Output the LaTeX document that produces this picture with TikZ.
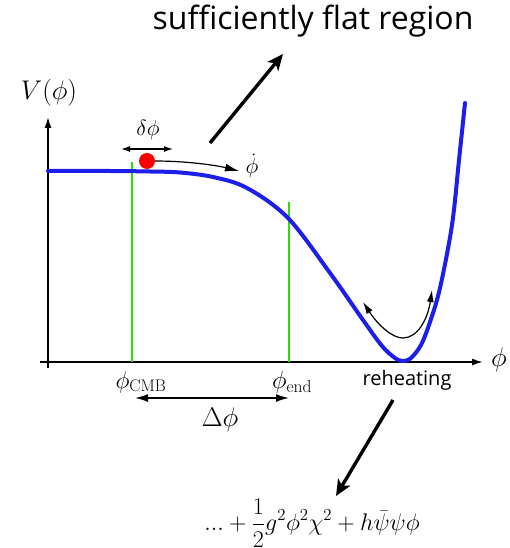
\RequirePackage{fix-cm}
\documentclass[tikz,border=0pt]{standalone}
\usepackage{fontspec}
\newfontfamily\sansfont{Open Sans}
\usetikzlibrary{arrows.meta}
\definecolor{potblue}{RGB}{30,30,235}
\definecolor{brightgreen}{RGB}{45,220,10}
\begin{document}
\begin{tikzpicture}[x=1pt,y=-1pt,
  axis/.style={line width=1.6pt,-{Latex[length=11pt,width=7pt]}},
  pointer/.style={line width=3.4pt,-{Stealth[length=16pt,width=14pt,inset=4pt]}},
  thinarrow/.style={line width=1.2pt,{Latex[length=9pt,width=6pt]}-{Latex[length=9pt,width=6pt]}},
  greenline/.style={line width=2.4pt,brightgreen},
  lbl/.style={inner sep=0pt,font=\fontsize{24}{28}\selectfont}
]
\useasboundingbox (0,0) rectangle (510,548);
% axes
\coordinate (xa0) at (40,362); \coordinate (xa1) at (483,362);
\coordinate (ya0) at (48,368); \coordinate (ya1) at (48,117);
\draw[axis] (xa0) -- (xa1);
\draw[axis] (ya0) -- (ya1);
% green lines
\coordinate (g1t) at (132,162); \coordinate (g1b) at (132,362);
\coordinate (g2t) at (289,202); \coordinate (g2b) at (289,362);
\draw[greenline] (g1b) -- (g1t);
\draw[greenline] (g2b) -- (g2t);
% potential
\draw[line width=4pt,potblue,line join=round,line cap=round]
  plot[smooth,tension=0.55] coordinates {(48,171) (110,171) (150,171.5) (180,172.5) (213,177) (247,188) (288,218) (330,273) (363,320) (382,346) (395,358) (403,361) (411,358) (421,345) (430,322) (440,288) (452,225) (459,160) (465,103)};
% ball
\node[circle,fill=red,minimum size=16pt,inner sep=0pt] (ball) at (147,161) {};
% delta phi
\coordinate (d0) at (121,149); \coordinate (d1) at (173,149);
\draw[line width=1.2pt,{Latex[length=9pt,width=6pt]}-{Latex[length=9pt,width=6pt]}] (d0) -- (d1);
\node[lbl,font=\fontsize{22}{26}\selectfont] (dphi) at (148,130) {$\delta\phi$};
% phi dot arrow
\coordinate (pd1) at (239,171);
\draw[line width=1.2pt,-{Latex[length=14pt,width=8pt]}] (ball.east) .. controls (185,161) and (215,165) .. (pd1);
\node[lbl,font=\fontsize{22}{26}\selectfont] (phidot) at (252,166) {$\dot\phi$};
% labels
\node[lbl,font=\fontsize{27}{32}\selectfont] (V) at (49,93) {$V(\phi)$};
\node[lbl,font=\fontsize{27}{32}\selectfont] (phiax) at (499,360) {$\phi$};
\node[lbl] (pcmb) at (141,382) {$\phi_{\mathrm{CMB}}$};
\node[lbl,font=\fontsize{25}{30}\selectfont] (pend) at (292,382) {$\phi_{\mathrm{end}}$};
\node[inner sep=0pt,font=\sansfont\fontsize{20}{24}\selectfont] (reh) at (407,380) {reheating};
% Delta phi
\coordinate (D0) at (135,398); \coordinate (D1) at (289,398);
\draw[line width=1.6pt,{Latex[length=13pt,width=8pt]}-{Latex[length=13pt,width=8pt]}] (D0) -- (D1);
\node[lbl,font=\fontsize{27}{32}\selectfont] (Dphi) at (220,420) {$\Delta\phi$};
% oscillation arrow
\coordinate (o0) at (363,302); \coordinate (o1) at (403,338); \coordinate (o2) at (432,290);
\draw[thinarrow,{Latex[length=12pt,width=7pt]}-{Latex[length=12pt,width=7pt]}] (o0) .. controls (378,325) and (392,338) .. (o1) .. controls (418,338) and (428,318) .. (o2);
% title
\node[inner sep=0pt,font=\sansfont\fontsize{32}{36}\selectfont] (title) at (313,21) {sufficiently flat region};
\coordinate (t0) at (210,143); \coordinate (t1) at (283,54);
\draw[pointer] (t0) -- (t1);
% reheating arrow
\coordinate (r0) at (393,400); \coordinate (r1) at (336,496);
\draw[pointer] (r0) -- (r1);
% formula
\node[lbl,font=\fontsize{24}{28}\selectfont] (form) at (312,523) {$\displaystyle ...+\frac{1}{2}g^2\phi^2\chi^2+h\bar\psi\psi\phi$};
\end{tikzpicture}
\end{document}
